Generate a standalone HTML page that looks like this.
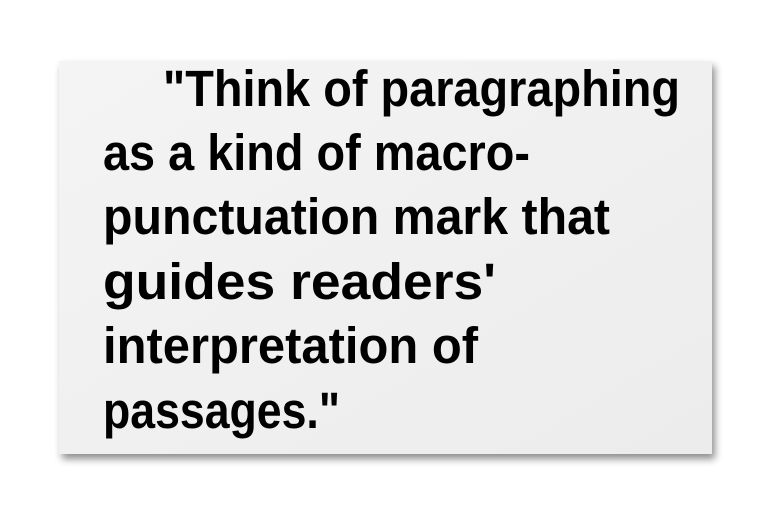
<!DOCTYPE html>
<html><head><style>
html,body{margin:0;padding:0;background:#fff;width:768px;height:512px;overflow:hidden}
</style></head><body>
<svg width="768" height="512" viewBox="0 0 768 512" xmlns="http://www.w3.org/2000/svg">
<defs>
<linearGradient id="g" x1="0" y1="0" x2="1" y2="1">
<stop offset="0" stop-color="#f4f4f4"/><stop offset="1" stop-color="#ececec"/>
</linearGradient>
<filter id="s" x="-5%" y="-5%" width="110%" height="115%">
<feGaussianBlur in="SourceAlpha" stdDeviation="4"/>
<feOffset dx="3" dy="5"/>
<feComponentTransfer><feFuncA type="linear" slope="0.45"/></feComponentTransfer>
<feMerge><feMergeNode/><feMergeNode in="SourceGraphic"/></feMerge>
</filter>
</defs>
<rect x="59" y="61" width="653" height="393" fill="url(#g)" filter="url(#s)"/>
<g font-family="Liberation Sans, sans-serif" font-weight="bold" font-size="51" fill="#000">
<text x="163" y="106" textLength="517" lengthAdjust="spacingAndGlyphs">"Think of paragraphing</text>
<text x="103" y="170" textLength="427" lengthAdjust="spacingAndGlyphs">as a kind of macro-</text>
<text x="103" y="234" textLength="507" lengthAdjust="spacingAndGlyphs">punctuation mark that</text>
<text x="103" y="299" textLength="393" lengthAdjust="spacingAndGlyphs">guides readers'</text>
<text x="103" y="363" textLength="375" lengthAdjust="spacingAndGlyphs">interpretation of</text>
<text x="103" y="428" textLength="237" lengthAdjust="spacingAndGlyphs">passages."</text>
</g>
</svg>
</body></html>
